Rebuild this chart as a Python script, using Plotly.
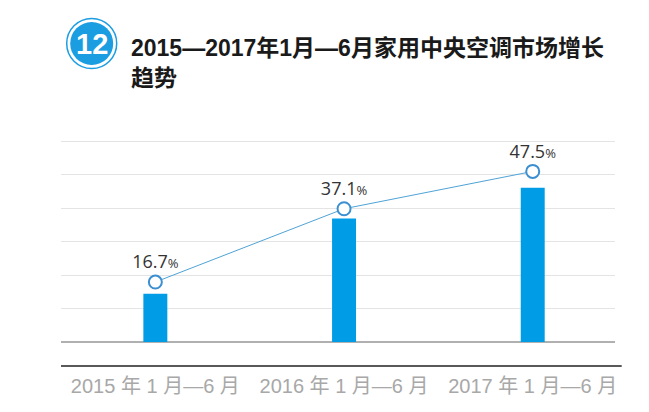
import plotly.graph_objects as go

# ---- data ----
categories = ["2015 年 1 月—6 月", "2016 年 1 月—6 月", "2017 年 1 月—6 月"]
bar_values = [14.4, 36.9, 46.1]          # relative market size (unlabelled bars)
growth_pct = [16.7, 37.1, 47.5]          # growth rate, %
title_text = "2015—2017年1月—6月家用中央空调市场增长<br>趋势"
badge_text = "12"

W, H = 649, 412
ML, MR, MT, MB = 61, 34, 138, 70
PW, PH = W - ML - MR, H - MT - MB

def px_x(px):
    return (px - ML) / PW

def px_y(py):
    return (H - MB - py) / PH

fig = go.Figure()

fig.add_trace(go.Bar(
    x=categories, y=bar_values, width=0.127,
    marker=dict(color="#009de6", line=dict(width=0)),
    yaxis="y", hoverinfo="skip", showlegend=False,
))

fig.add_trace(go.Scatter(
    x=categories, y=growth_pct, yaxis="y2",
    mode="lines+markers+text",
    line=dict(color="#4fa3d6", width=1),
    marker=dict(size=13, color="white", line=dict(color="#3b8fd0", width=2)),
    texttemplate="%{y}<span style='font-size:13px'>%</span>",
    textposition="top center",
    textfont=dict(family="Open Sans, Noto Sans CJK SC, sans-serif", size=18, color="#333333"),
    cliponaxis=False, showlegend=False,
))

fig.update_layout(
    width=W, height=H,
    margin=dict(l=ML, r=MR, t=MT, b=MB),
    paper_bgcolor="white", plot_bgcolor="white",
    showlegend=False,
    xaxis=dict(
        type="category", range=[-0.5, 2.436],
        showgrid=False, showline=False, zeroline=False,
        ticks="", ticklabelstandoff=30,
        tickfont=dict(family="Liberation Sans, Noto Sans CJK SC, sans-serif", size=20, color="#a8a8a8"),
    ),
    yaxis=dict(
        range=[0, 61], tick0=0, dtick=10, showticklabels=False,
        showgrid=True, gridcolor="#e4e4e4", gridwidth=1,
        zeroline=True, zerolinecolor="#b0b0b0", zerolinewidth=1.5,
        showline=False, ticks="",
    ),
    yaxis2=dict(
        range=[0, 56.8], overlaying="y", showticklabels=False,
        showgrid=False, zeroline=False, showline=False, ticks="",
    ),
    shapes=[
        # dark rule under the baseline
        dict(type="line", xref="paper", yref="paper",
             x0=0, x1=px_x(621.7), y0=px_y(366), y1=px_y(366),
             line=dict(color="#222222", width=1.5)),
        # badge outer ring
        dict(type="circle", xref="paper", yref="paper",
             xsizemode="pixel", ysizemode="pixel",
             xanchor=px_x(91.7), yanchor=px_y(43.5),
             x0=-25, x1=25, y0=-25, y1=25,
             fillcolor="white", line=dict(color="#1b9de2", width=1.5)),
        # badge inner disc
        dict(type="circle", xref="paper", yref="paper",
             xsizemode="pixel", ysizemode="pixel",
             xanchor=px_x(91.7), yanchor=px_y(43.5),
             x0=-21.5, x1=21.5, y0=-21.5, y1=21.5,
             fillcolor="#1b9de2", line=dict(width=0)),
    ],
    annotations=[
        dict(text="<b>" + badge_text + "</b>", xref="paper", yref="paper",
             x=px_x(91.7), y=px_y(44), xanchor="center", yanchor="middle",
             showarrow=False,
             font=dict(family="Liberation Sans, Arial, sans-serif", size=29, color="white")),
        dict(text="<b>" + title_text + "</b>", xref="paper", yref="paper",
             x=px_x(129), y=px_y(33), xanchor="left", yanchor="top", align="left",
             showarrow=False,
             font=dict(family="Liberation Sans, Noto Sans CJK SC, sans-serif", size=23, color="#1a1a1a")),
    ],
)

fig.write_html(
    "out.html",
    config={"displayModeBar": False},
    post_script="document.body.style.margin='0';document.body.style.overflow='hidden';",
)
